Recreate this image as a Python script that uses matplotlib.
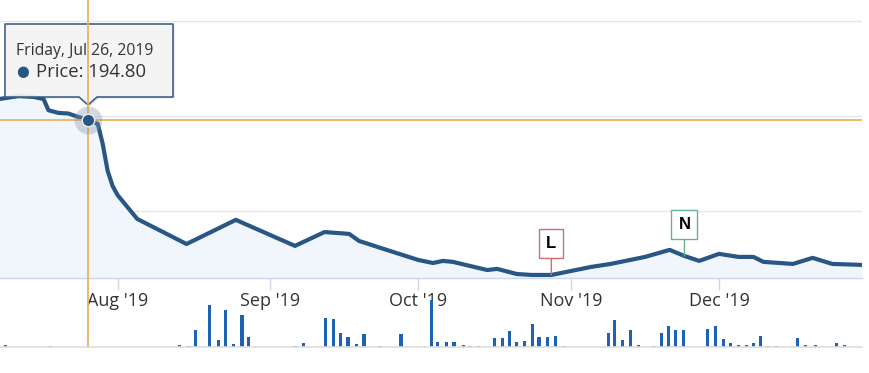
import numpy as np
import pandas as pd
import matplotlib
matplotlib.use('Agg')
import matplotlib.pyplot as plt
import matplotlib.dates as mdates
from matplotlib.patches import Polygon

plt.rcParams['font.family'] = ['Open Sans', 'DejaVu Sans']

# price series
price_dates = pd.to_datetime([
    '2019-07-08', '2019-07-12', '2019-07-15', '2019-07-17', '2019-07-18',
    '2019-07-20', '2019-07-22', '2019-07-24', '2019-07-26', '2019-07-28',
    '2019-07-29', '2019-07-30', '2019-07-31', '2019-08-01', '2019-08-03',
    '2019-08-05', '2019-08-15', '2019-08-25', '2019-09-06', '2019-09-12',
    '2019-09-17', '2019-09-19', '2019-09-24', '2019-10-01', '2019-10-04',
    '2019-10-06', '2019-10-08', '2019-10-15', '2019-10-17', '2019-10-21',
    '2019-10-24', '2019-10-28', '2019-11-01', '2019-11-05', '2019-11-09',
    '2019-11-13', '2019-11-16', '2019-11-21', '2019-11-24', '2019-11-27',
    '2019-12-01', '2019-12-05', '2019-12-08', '2019-12-10', '2019-12-16',
    '2019-12-20', '2019-12-24', '2019-12-30',
])
price = [
    195.89, 196.05, 196.00, 195.89, 195.30,
    195.16, 195.13, 194.95, 194.80, 194.58,
    193.53, 192.11, 191.32, 190.84, 190.21,
    189.58, 188.26, 189.53, 188.16, 188.89,
    188.79, 188.42, 188.00, 187.42, 187.26,
    187.37, 187.32, 186.89, 186.95, 186.68,
    186.63, 186.63, 186.84, 187.05, 187.21,
    187.42, 187.58, 187.95, 187.63, 187.37,
    187.74, 187.58, 187.58, 187.32, 187.21,
    187.53, 187.21, 187.16,
]

# volume series
vol_dates = pd.to_datetime([
    '2019-07-09 06:00', '2019-07-18 12:00', '2019-08-13 12:00', '2019-08-15 12:00',
    '2019-08-16 18:00', '2019-08-19 18:00', '2019-08-21 12:00', '2019-08-23 00:00',
    '2019-08-24 12:00', '2019-08-26 06:00', '2019-08-27 12:00', '2019-09-06 00:00',
    '2019-09-07 18:00', '2019-09-12 06:00', '2019-09-13 18:00', '2019-09-15 06:00',
    '2019-09-16 18:00', '2019-09-18 12:00', '2019-09-20 00:00', '2019-09-23 06:00',
    '2019-09-27 12:00', '2019-10-03 18:00', '2019-10-05 00:00', '2019-10-06 18:00',
    '2019-10-08 06:00', '2019-10-10 06:00', '2019-10-11 12:00', '2019-10-13 06:00',
    '2019-10-16 12:00', '2019-10-18 00:00', '2019-10-19 12:00', '2019-10-21 00:00',
    '2019-10-22 12:00', '2019-10-24 06:00', '2019-10-25 12:00', '2019-10-27 06:00',
    '2019-10-28 18:00', '2019-10-30 12:00', '2019-11-08 12:00', '2019-11-09 18:00',
    '2019-11-11 12:00', '2019-11-13 00:00', '2019-11-14 18:00', '2019-11-17 18:00',
    '2019-11-19 06:00', '2019-11-20 18:00', '2019-11-22 06:00', '2019-11-23 18:00',
    '2019-11-28 18:00', '2019-11-30 06:00', '2019-12-02 00:00', '2019-12-03 06:00',
    '2019-12-05 00:00', '2019-12-06 12:00', '2019-12-08 00:00', '2019-12-09 12:00',
    '2019-12-11 00:00', '2019-12-12 18:00', '2019-12-17 00:00', '2019-12-18 12:00',
    '2019-12-20 12:00', '2019-12-24 18:00', '2019-12-26 12:00',
])
volume = [
    2, 1.5, 2, 1,
    17, 42, 7, 37,
    3, 32, 10, 1.5,
    4, 29, 28, 14,
    10, 3, 13, 1,
    13, 47, 5, 5,
    5, 2, 1, 1,
    9, 9, 16, 5,
    6, 23, 10, 10,
    11, 1, 14, 27,
    7, 17, 2, 1,
    14, 21, 17, 17,
    18, 21, 8, 4,
    2, 2, 4, 11,
    1, 1, 9, 2,
    2, 4, 2,
]

month_ticks = pd.to_datetime(['2019-08-01', '2019-09-01', '2019-10-01', '2019-11-01', '2019-12-01'])
month_labels = ["Aug '19", "Sep '19", "Oct '19", "Nov '19", "Dec '19"]
grid_levels = [190, 195, 200]

hover_date = pd.Timestamp('2019-07-26')
flag_letters = ['L', 'N']
flag_dates = pd.to_datetime(['2019-10-28', '2019-11-24'])

line_color = '#285785'
fill_color = '#f0f6fc'
vol_color = '#1c63b6'
cross_color = '#efb35e'
flag_colors = ['#d06b6e', '#66b28c']

s_price = pd.Series(price, index=price_dates)
hover_price = s_price[hover_date]

W, H = 869, 373
fig = plt.figure(figsize=(W / 100, H / 100), dpi=100)


def px(x, y):
    return (x / W, 1 - y / H)


ax = fig.add_axes([0, (H - 278) / H, 862 / W, (278 - 20) / H])
axv = fig.add_axes([0, (H - 347) / H, 862 / W, (347 - 295) / H], sharex=ax)
axv.set_zorder(ax.get_zorder() + 1)
axv.patch.set_alpha(0)

aug1 = mdates.date2num(pd.Timestamp('2019-08-01'))
ax.set_xlim(aug1 - 117.5 / 4.93, aug1 + 744.5 / 4.93)
ax.set_ylim(186.47, 200.05)

# price line + area
ax.fill_between(price_dates, price, 186.47, color=fill_color, zorder=1, lw=0)
ax.plot(price_dates, price, color=line_color, lw=3.0, solid_joinstyle='round', zorder=3)

for g in grid_levels:
    ax.axhline(g, color='#e6e6e6', lw=1, zorder=0)

for sp in ['top', 'left', 'right']:
    ax.spines[sp].set_visible(False)
ax.spines['bottom'].set_color('#ccd6eb')
ax.spines['bottom'].set_linewidth(1)
ax.set_yticks([])
ax.set_xticks(month_ticks)
ax.set_xticklabels(month_labels)
ax.tick_params(axis='x', length=8.6, width=1, color='#ccd6eb', labelsize=13,
               labelcolor='#333333', pad=1.5)

# volume pane
axv.bar(vol_dates, volume, width=0.62, color=vol_color, zorder=2)
axv.set_ylim(0, 52)
for sp in ['top', 'left', 'right']:
    axv.spines[sp].set_visible(False)
axv.spines['bottom'].set_color('#dddddd')
axv.spines['bottom'].set_linewidth(1.2)
axv.set_yticks([])
axv.tick_params(axis='x', length=0, labelbottom=False)

# flags
for letter, fdate, fcol in zip(flag_letters, flag_dates, flag_colors):
    fy = s_price[fdate]
    ax.annotate(letter, xy=(fdate, fy), xytext=(0, 22.5), textcoords='offset points',
                ha='center', va='center', fontsize=12, fontweight='bold',
                family='Liberation Sans', color='black', zorder=6,
                bbox=dict(boxstyle='square,pad=0.42', fc='white', ec=fcol, lw=1),
                arrowprops=dict(arrowstyle='-', color=fcol, lw=1, shrinkA=0, shrinkB=0))

# tooltip
tip = [px(5, 24), px(173, 24), px(173, 97), px(97, 97), px(88, 105), px(79, 97), px(5, 97)]
shadow = [(x + 1.5 / W, y - 1.5 / H) for x, y in tip]
ax.add_patch(Polygon(shadow, closed=True, transform=fig.transFigure, fc='black', alpha=0.12,
                     ec='none', clip_on=False, zorder=6))
ax.add_patch(Polygon(tip, closed=True, transform=fig.transFigure, fc='#f7f7f7', alpha=0.9,
                     ec='none', clip_on=False, zorder=7))
ax.add_patch(Polygon(tip, closed=True, transform=fig.transFigure, fc='none', ec='#3f6488',
                     lw=1.2, joinstyle='round', clip_on=False, zorder=7))
ax.text(*px(16, 55), hover_date.strftime('%A, %b %d, %Y'), transform=fig.transFigure,
        fontsize=11.3, color='#333333', va='baseline', zorder=8)
ax.text(*px(16, 76), '\u25CF', transform=fig.transFigure, fontsize=10.5,
        color=line_color, va='baseline', zorder=8, family='DejaVu Sans')
ax.text(*px(36, 77), f'Price: {hover_price:.2f}', transform=fig.transFigure,
        fontsize=13.3, color='#333333', va='baseline', zorder=8)

# crosshair
ax.axhline(hover_price, color=cross_color, lw=1.3, zorder=4)
ax.axvline(hover_date, ymin=-(347 - 278) / 258, ymax=278 / 258, color=cross_color,
           lw=1.3, clip_on=False, zorder=9)

# hover marker
ax.plot([hover_date], [hover_price], 'o', ms=20, color='#7f93a8', alpha=0.35, mec='none', zorder=10)
ax.plot([hover_date], [hover_price], 'o', ms=9, color=line_color, mec='#e8eef4', mew=1, zorder=11)

fig.savefig('out.png', dpi=100)
